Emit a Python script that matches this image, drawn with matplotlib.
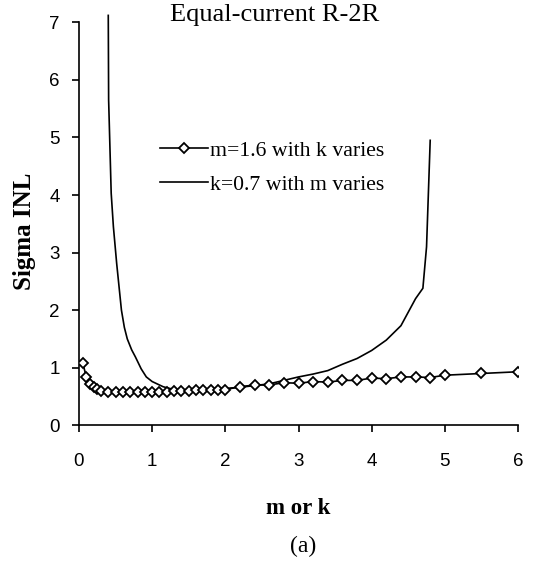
import matplotlib
matplotlib.use("Agg")
import matplotlib.pyplot as plt

# m = 1.6, k swept
k_values = [0.05, 0.1, 0.15, 0.2, 0.25, 0.3, 0.4, 0.5, 0.6, 0.7, 0.8, 0.9, 1.0,
            1.1, 1.2, 1.3, 1.4, 1.5, 1.6, 1.7, 1.8, 1.9, 2.0, 2.2, 2.4, 2.6,
            2.8, 3.0, 3.2, 3.4, 3.6, 3.8, 4.0, 4.2, 4.4, 4.6, 4.8, 5.0, 5.5, 6.0]
inl_k = [1.09, 0.84, 0.72, 0.67, 0.63, 0.60, 0.58, 0.58, 0.58, 0.58, 0.58, 0.58, 0.58,
         0.58, 0.58, 0.59, 0.60, 0.60, 0.61, 0.62, 0.62, 0.62, 0.62, 0.67, 0.70, 0.70,
         0.74, 0.73, 0.76, 0.75, 0.78, 0.78, 0.82, 0.81, 0.84, 0.84, 0.83, 0.87, 0.90, 0.93]

# k = 0.7, m swept
m_values = [0.40, 0.405, 0.44, 0.47, 0.515, 0.58, 0.62, 0.66, 0.72, 0.77, 0.85, 0.92,
            1.0, 1.15, 1.3, 1.4, 1.6, 1.8, 2.0, 2.2, 2.4, 2.6, 2.8, 3.0, 3.2, 3.4,
            3.6, 3.8, 4.0, 4.2, 4.4, 4.6, 4.7, 4.75, 4.8]
inl_m = [7.12, 5.65, 4.03, 3.45, 2.81, 2.0, 1.70, 1.50, 1.31, 1.19, 0.98, 0.84,
         0.76, 0.67, 0.62, 0.60, 0.61, 0.62, 0.64, 0.66, 0.69, 0.72, 0.78, 0.84, 0.89, 0.95,
         1.06, 1.16, 1.30, 1.48, 1.73, 2.2, 2.38, 3.1, 4.95]

x_ticks = [0, 1, 2, 3, 4, 5, 6]
y_ticks = [0, 1, 2, 3, 4, 5, 6, 7]

W, H = 535, 561
fig = plt.figure(figsize=(W / 100, H / 100), dpi=100)
ax = fig.add_axes([79 / W, 1 - 425.3 / H, (518 - 79) / W, (425.3 - 22.3) / H])

serif = ["Liberation Serif", "DejaVu Serif"]
sans = ["Liberation Sans", "DejaVu Sans"]

ax.plot(k_values, inl_k, color="black", lw=1.2, marker="D", markersize=5.6,
        markerfacecolor="white", markeredgecolor="black", markeredgewidth=1.3,
        label="m=1.6 with k varies", zorder=3)
ax.plot(m_values, inl_m, color="black", lw=1.2, label="k=0.7 with m varies",
        clip_on=False, zorder=2)

ax.set_xlim(0, 6)
ax.set_ylim(0, 7)
ax.set_xticks(x_ticks)
ax.set_yticks(y_ticks)
ax.spines["top"].set_visible(False)
ax.spines["right"].set_visible(False)
for s in ("left", "bottom"):
    ax.spines[s].set_linewidth(1.2)
ax.tick_params(axis="both", direction="out", length=5, width=1.2, labelsize=13.5)
ax.tick_params(axis="x", pad=15)
ax.tick_params(axis="y", pad=9)
for lab in ax.get_xticklabels() + ax.get_yticklabels():
    lab.set_family(sans)

leg = ax.legend(loc="upper left", bbox_to_anchor=(160 / W, 1 - 140.5 / H),
                bbox_transform=fig.transFigure, frameon=False, borderpad=0,
                borderaxespad=0, handlelength=2.2, handletextpad=0.1,
                labelspacing=0.62, prop={"family": serif, "size": 15.7})

fig.text(275 / W, 1 - 15 / H, "Equal-current R-2R", ha="center", va="center",
         family=serif, fontsize=19)
fig.text(25 / W, 1 - 231 / H, "Sigma INL", ha="center", va="center",
         rotation=90, family=serif, fontsize=18, fontweight="bold")
fig.text(298 / W, 1 - 508 / H, "m or k", ha="center", va="center",
         family=serif, fontsize=16.5, fontweight="bold")
fig.text(303 / W, 1 - 546 / H, "(a)", ha="center", va="center",
         family=serif, fontsize=17)

fig.savefig("out.png", dpi=100)
